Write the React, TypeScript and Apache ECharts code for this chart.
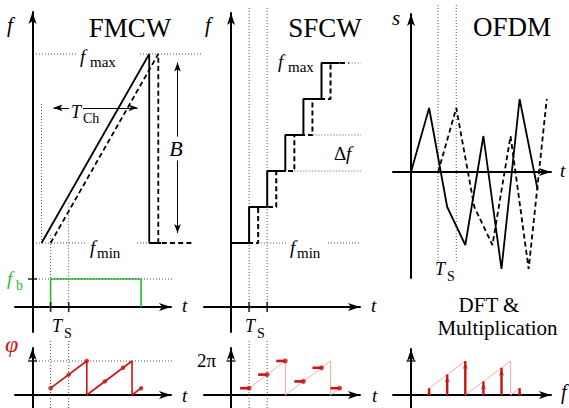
import React, { useEffect, useRef } from 'react';
import * as echarts from 'echarts';

const W = 569;
const H = 408;
const SERIF = '"Liberation Serif", "Times New Roman", serif';
const INK = '#000';
const DOT = '#555';
const RED = '#c81414';
const PINK = '#f4a4a4';
const GREEN = '#2dbd2d';

// screen length of one sample interval T_S, shared by every time axis
const UNIT = 18.1;

// sampling instants (in T_S) and the wrapped phase seen at each, in turns of 2π
const SAMPLE_T = [1, 2, 3, 4, 5, 6];
const SAMPLE_PHASE = [0.2, 0.6, 1.0, 0.4, 0.8, 0.2];
// continuous phase ramp between the samples, wrapping at 2π
const RAMP_T = [1, 3, 3, 5.5, 5.5, 6];
const RAMP_PHASE = [0.2, 1, 0, 1, 0, 0.2];

// FMCW: transmitted chirp and its delayed echo (f_min = 0, f_max = 10)
const TX_T = [0.5, 6.45, 6.45, 7.1];
const TX_F = [0, 10, 0, 0];
const RX_T = [1.0, 6.95, 6.95, 8.8];
const RX_F = [0, 10, 0, 0];
// beat frequency over the sampling window (f_b = 1)
const BEAT_T = [1, 1, 6, 6];
const BEAT_F = [0, 1, 1, 0];

// SFCW: step edges and frequency levels (in Δf)
const STEP_EDGES = [0, 1, 2, 3, 4, 5, 6];
const STEP_LEVELS = [0, 1, 2, 3, 4, 5];
const STEP_DELAY = 0.5;

// OFDM: transmitted symbol samples and echo delay
const OFDM_T = [0, 1, 2, 3, 4, 5, 6, 7];
const OFDM_S = [0, 6.4, -3.5, -7.3, 3.6, -9.7, 7.3, -1.8];
const OFDM_DELAY = 1.5;

type Pt = [number, number];

// a plotting frame: grid box in pixels plus the pixel position of the origin
function frame(left: number, right: number, top: number, bottom: number, ox: number, oy: number, sy: number) {
  return {
    grid: { left, top, width: right - left, height: bottom - top },
    x: [(left - ox) / UNIT, (right - ox) / UNIT],
    y: [(oy - bottom) / sy, (oy - top) / sy],
    xAt: (px: number) => (px - ox) / UNIT,
    yAt: (py: number) => (oy - py) / sy,
  };
}

const F = [
  frame(15, 200, 12, 332, 32.5, 243, 18.9), // 0 FMCW f(t)
  frame(15, 171, 262, 307, 32.5, 307, 28), // 1 FMCW beat
  frame(15, 171, 348, 408, 32.5, 395, 34), // 2 FMCW phase
  frame(204, 360, 13, 332, 231, 243, 36), // 3 SFCW f(t)
  frame(204, 360, 262, 307, 231, 307, 28), // 4 SFCW sampling
  frame(204, 360, 348, 408, 231, 395, 34), // 5 SFCW phase
  frame(393, 551, 14, 278, 411, 172, 10), // 6 OFDM s(t)
  frame(393, 551, 349, 408, 411, 395, 34), // 7 DFT & multiplication
];

const AXES: [boolean, boolean][] = [
  [false, true],
  [true, false],
  [true, true],
  [false, true],
  [true, false],
  [true, true],
  [true, true],
  [true, true],
];

const zip = (xs: number[], ys: number[]): Pt[] => xs.map((x, i) => [x, ys[i]]);

function interp(xs: number[], ys: number[], x: number) {
  const k = (x - xs[0]) / (xs[1] - xs[0]);
  return ys[0] + k * (ys[1] - ys[0]);
}

function stairs(shift: number): Pt[] {
  const pts: Pt[] = [];
  STEP_LEVELS.forEach((lv, i) => {
    pts.push([STEP_EDGES[i] + shift, lv], [STEP_EDGES[i + 1] + shift, lv]);
  });
  return pts;
}

function line(g: number, data: Pt[], color: string, width: number, type: any = 'solid', z = 3, extra: any = {}) {
  return {
    type: 'line',
    xAxisIndex: g,
    yAxisIndex: g,
    data,
    symbol: 'none',
    showSymbol: false,
    clip: false,
    silent: true,
    z,
    lineStyle: { color, width, type, cap: 'butt' },
    emphasis: { disabled: true },
    ...extra,
  };
}

function marks(g: number, data: Pt[], symbol: string, size: any, color: string, z = 4, extra: any = {}) {
  return {
    type: 'scatter',
    xAxisIndex: g,
    yAxisIndex: g,
    data,
    symbol,
    symbolSize: size,
    clip: false,
    silent: true,
    z,
    itemStyle: { color },
    emphasis: { disabled: true },
    ...extra,
  };
}

const guide = (g: number, a: Pt, b: Pt, z = 1) => line(g, [a, b], DOT, 1, [1, 2], z);

type Lbl = { t: string; x: number; b: number; s: number; it?: boolean; c?: string; bg?: boolean; al?: string };

const fontOf = (s: number, it?: boolean) => `${it ? 'italic ' : ''}${s}px ${SERIF}`;

function label(l: Lbl) {
  const align = l.al || 'left';
  return {
    type: 'text',
    z: 100,
    x: l.x,
    y: l.b - 0.3375 * l.s,
    style: {
      text: l.t,
      fill: l.c || INK,
      font: fontOf(l.s, l.it),
      align,
      textAlign: align,
      verticalAlign: 'middle',
      textVerticalAlign: 'middle',
      ...(l.bg ? { backgroundColor: '#fff', padding: [1, 2] } : {}),
    },
  };
}

const LABELS: Lbl[] = [
  // FMCW
  { t: 'f', x: 7, b: 32, s: 21, it: true },
  { t: 'FMCW', x: 130, b: 37, s: 27, al: 'center' },
  { t: 'f', x: 80, b: 63, s: 19, it: true },
  { t: 'max', x: 90, b: 67, s: 15 },
  { t: 'T', x: 69, b: 118, s: 18, it: true, bg: true },
  { t: 'Ch', x: 81, b: 123, s: 14, bg: true },
  { t: 'B', x: 176, b: 156, s: 22, it: true, bg: true, al: 'center' },
  { t: 'f', x: 90, b: 254, s: 19, it: true },
  { t: 'min', x: 97, b: 258, s: 15 },
  { t: 'f', x: 7, b: 285, s: 19, it: true, c: GREEN },
  { t: 'b', x: 16, b: 290, s: 14, c: GREEN },
  { t: 't', x: 182, b: 312, s: 19, it: true },
  { t: 'T', x: 52, b: 332, s: 18, it: true },
  { t: 'S', x: 64, b: 338, s: 14 },
  { t: 'φ', x: 5, b: 352, s: 24, it: true, c: RED },
  { t: 't', x: 182, b: 402, s: 19, it: true },
  // SFCW
  { t: 'f', x: 205, b: 32, s: 21, it: true },
  { t: 'SFCW', x: 325, b: 37, s: 27, al: 'center' },
  { t: 'f', x: 278, b: 68, s: 19, it: true },
  { t: 'max', x: 288, b: 72, s: 15 },
  { t: 'Δ', x: 334, b: 160, s: 19 },
  { t: 'f', x: 346, b: 160, s: 19, it: true },
  { t: 'f', x: 290, b: 254, s: 19, it: true },
  { t: 'min', x: 297, b: 258, s: 15 },
  { t: 't', x: 371, b: 312, s: 19, it: true },
  { t: 'T', x: 245, b: 332, s: 18, it: true },
  { t: 'S', x: 257, b: 338, s: 14 },
  { t: '2π', x: 195, b: 367, s: 19, bg: true },
  { t: 't', x: 372, b: 402, s: 19, it: true },
  // OFDM
  { t: 's', x: 392, b: 25, s: 21, it: true },
  { t: 'OFDM', x: 512, b: 36, s: 27, al: 'center' },
  { t: 't', x: 560, b: 177, s: 19, it: true },
  { t: 'T', x: 435, b: 275, s: 18, it: true },
  { t: 'S', x: 447, b: 281, s: 14 },
  { t: 'DFT &', x: 489, b: 312, s: 21, al: 'center' },
  { t: 'Multiplication', x: 497.5, b: 335.5, s: 21, al: 'center' },
  { t: 'f', x: 561, b: 399, s: 20, it: true },
];

function buildOption() {
  const axisDef = (i: number, show: boolean, range: number[]) => ({
    type: 'value',
    gridIndex: i,
    show,
    silent: true,
    min: range[0],
    max: range[1],
    axisLine: {
      show,
      onZero: true,
      symbol: ['none', 'arrow'],
      symbolSize: [6, 12],
      lineStyle: { color: INK, width: 2 },
    },
    axisTick: { show: false },
    axisLabel: { show: false },
    splitLine: { show: false },
  });

  const f0 = F[0];
  const f1 = F[1];
  const f2 = F[2];
  const f3 = F[3];
  const f5 = F[5];
  const f6 = F[6];
  const firstTwo = SAMPLE_T.slice(0, 2);
  const chirpMid = (t: number) =>
    (interp(TX_T, TX_F, t) + interp(RX_T, RX_F, t)) / 2;

  const arrowLines = {
    silent: true,
    symbol: ['arrow', 'arrow'],
    symbolSize: [5, 9],
    label: { show: false },
    emphasis: { disabled: true },
    lineStyle: { color: INK, width: 1, type: 'solid' },
    data: [
      // chirp duration T_Ch
      [{ coord: [f0.xAt(53.5), 7.15] }, { coord: [f0.xAt(137.5), 7.15] }],
      // bandwidth B
      [{ coord: [f0.xAt(177.5), f0.yAt(233)] }, { coord: [f0.xAt(177.5), f0.yAt(62.5)] }],
    ],
  };

  const series: any[] = [
    // ---- FMCW f(t)
    line(0, zip(TX_T, TX_F), INK, 1.8, 'solid', 3, { markLine: arrowLines }),
    line(0, zip(RX_T, RX_F), INK, 1.8, [5, 3.2]),
    guide(0, [f0.xAt(36), 10], [f0.xAt(78), 10]),
    guide(0, [f0.xAt(140), 10], [f0.xAt(206), 10]),
    guide(0, [f0.xAt(36), 0], [f0.xAt(87), 0]),
    guide(0, [f0.xAt(137), 0], [TX_T[1], 0]),
    guide(0, [TX_T[0], 0], [TX_T[0], 7.35]),
    ...firstTwo.map((t) => guide(0, [t, chirpMid(t)], [t, f0.yAt(313)])),
    // ---- FMCW beat frequency
    line(1, zip(BEAT_T, BEAT_F), GREEN, 1.6),
    guide(1, [f1.xAt(36), 1], [f1.xAt(196), 1], 4),
    marks(1, firstTwo.map((t) => [t, 0] as Pt), 'rect', [1.6, 10], INK),
    marks(1, [[0, 1]], 'rect', [9, 1.6], INK),
    // ---- FMCW phase
    line(2, zip(RAMP_T, RAMP_PHASE), RED, 1.6),
    marks(2, zip(SAMPLE_T, SAMPLE_PHASE), 'circle', 4.5, RED),
    guide(2, [f2.xAt(36), 1], [f2.xAt(566), 1]),
    marks(2, [[0, 1]], 'rect', [9, 1.6], INK),
    ...firstTwo.map((t) => guide(2, [t, f2.yAt(341)], [t, f2.yAt(408)])),
    // ---- SFCW f(t)
    line(3, stairs(0), INK, 2),
    line(3, stairs(STEP_DELAY), INK, 2, [5, 3]),
    ...firstTwo.map((t) => guide(3, [t, f3.yAt(8)], [t, f3.yAt(313)])),
    guide(3, [STEP_EDGES[1] + STEP_DELAY, 0], [f3.xAt(286), 0]),
    guide(3, [f3.xAt(328), 0], [f3.xAt(390), 0]),
    ...[2, 3].map((lv) =>
      guide(3, [STEP_EDGES[lv + 1] + STEP_DELAY, lv], [f3.xAt(367), lv])
    ),
    guide(3, [STEP_EDGES[6] + STEP_DELAY, 5], [f3.xAt(393), 5]),
    // ---- SFCW sampling axis
    marks(4, firstTwo.map((t) => [t, 0] as Pt), 'rect', [1.6, 10], INK),
    // ---- SFCW phase
    line(5, zip(RAMP_T, RAMP_PHASE), PINK, 0.9),
    ...SAMPLE_T.map((t, i) =>
      line(5, [[t - 0.5, SAMPLE_PHASE[i]], [t, SAMPLE_PHASE[i]]], RED, 2.6)
    ),
    marks(5, zip(SAMPLE_T, SAMPLE_PHASE), 'circle', 5, RED),
    marks(5, [[0, 1]], 'rect', [9, 1.6], INK),
    ...firstTwo.map((t) => guide(5, [t, f5.yAt(341)], [t, f5.yAt(408)])),
    // ---- OFDM s(t)
    line(6, zip(OFDM_T, OFDM_S), INK, 1.8),
    line(
      6,
      zip(
        OFDM_T.slice(0, -1).map((t) => t + OFDM_DELAY),
        OFDM_S.slice(0, -1)
      ),
      INK,
      1.8,
      [5, 3.2]
    ),
    ...[1, 2].map((t) => guide(6, [t + 0.5, f6.yAt(5)], [t + 0.5, f6.yAt(262)])),
    // ---- DFT & multiplication
    line(7, zip(RAMP_T, RAMP_PHASE), PINK, 0.9),
    ...SAMPLE_T.map((t, i) => line(7, [[t, 0], [t, SAMPLE_PHASE[i]]], RED, 2.4)),
    marks(7, zip(SAMPLE_T, SAMPLE_PHASE), 'arrow', [4, 6], RED, 5, { symbolOffset: [0, 2] }),
    marks(7, [[0, 1]], 'rect', [9, 1.6], INK),
  ];

  return {
    animation: false,
    backgroundColor: '#fff',
    grid: F.map((f) => f.grid),
    xAxis: F.map((f, i) => axisDef(i, AXES[i][0], f.x)),
    yAxis: F.map((f, i) => axisDef(i, AXES[i][1], f.y)),
    series,
    graphic: { elements: LABELS.map(label) },
  };
}

export default function App() {
  const ref = useRef<HTMLDivElement>(null);
  useEffect(() => {
    if (!ref.current) return;
    const chart = echarts.init(ref.current, null, { renderer: 'svg', width: W, height: H });
    chart.setOption(buildOption() as any);
    return () => chart.dispose();
  }, []);
  return (
    <div
      ref={ref}
      style={{ position: 'absolute', left: 0, top: 0, width: W, height: H, background: '#fff' }}
    />
  );
}
